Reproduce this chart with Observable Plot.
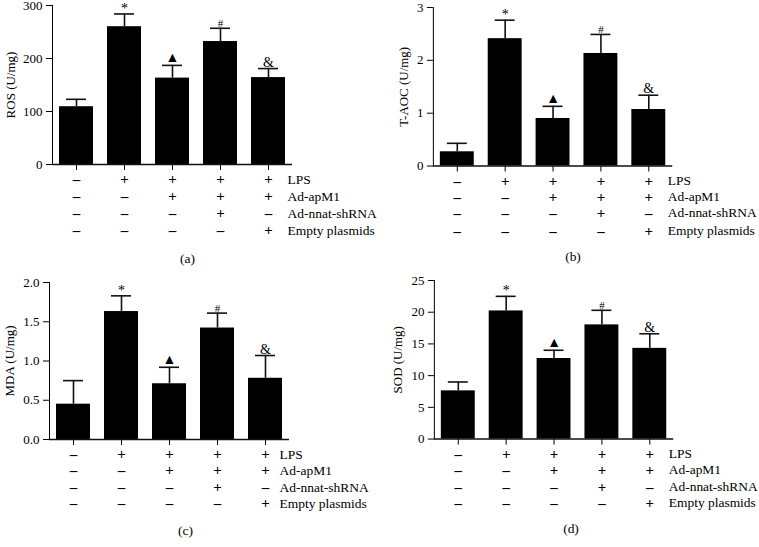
<!DOCTYPE html>
<html><head><meta charset="utf-8">
<script src="https://cdn.jsdelivr.net/npm/d3@7"></script>
<script src="https://cdn.jsdelivr.net/npm/@observablehq/plot@0.6"></script>
<style>
body{margin:0;background:#fff;width:759px;height:547px;position:relative;overflow:hidden;font-family:"Liberation Serif",serif;}
.p{position:absolute;}
.p svg{overflow:visible;}
</style></head><body>
<div id="pa" class="p" style="left:0;top:0"></div>
<div id="pb" class="p" style="left:380px;top:0"></div>
<div id="pc" class="p" style="left:0;top:276px"></div>
<div id="pd" class="p" style="left:380px;top:276px"></div>
<script>
// ---- data ----
const groups = ["1", "2", "3", "4", "5"];
const sigLabels = ["", "*", "▲", "#", "&"];
const rowLabels = ["LPS", "Ad-apM1", "Ad-nnat-shRNA", "Empty plasmids"];
const rowLPS   = ["–", "+", "+", "+", "+"];
const rowApM1  = ["–", "–", "+", "+", "+"];
const rowNnat  = ["–", "–", "–", "+", "–"];
const rowEmpty = ["–", "–", "–", "–", "+"];

const rosMean  = [109, 260, 163, 232, 164];
const rosSD    = [14, 24, 24, 25, 17];
const taocMean = [0.27, 2.41, 0.90, 2.13, 1.07];
const taocSD   = [0.16, 0.35, 0.23, 0.36, 0.27];
const mdaMean  = [0.45, 1.63, 0.71, 1.42, 0.78];
const mdaSD    = [0.30, 0.20, 0.21, 0.19, 0.29];
const sodMean  = [7.6, 20.2, 12.7, 18.0, 14.3];
const sodSD    = [1.4, 2.3, 1.3, 2.3, 2.3];

const rosTicks  = [0, 100, 200, 300];
const taocTicks = [0, 1, 2, 3];
const mdaTicks  = [0, 0.5, 1.0, 1.5, 2.0];
const sodTicks  = [0, 5, 10, 15, 20, 25];

const tableRows = [rowLPS, rowApM1, rowNnat, rowEmpty];

function panel(id, cfg) {
  const data = groups.map((g, i) => ({g, v: cfg.mean[i], e: cfg.mean[i] + cfg.sd[i], s: sigLabels[i]}));
  const marks = [
    Plot.barY(data, {x: "g", y: "v", fill: "#000"}),
    Plot.ruleX(data, {x: "g", y1: "v", y2: "e", stroke: "#111", strokeWidth: 1.6}),
    Plot.tickY(data, {x: "g", y: "e", stroke: "#111", strokeWidth: 1.6, insetLeft: 7, insetRight: 7}),
    Plot.text(data, {filter: d => d.s === "*", x: "g", y: "e", text: "s", dy: -1, lineAnchor: "bottom", fontSize: 14, fill: "#000"}),
    Plot.text(data, {filter: d => d.s === "▲", x: "g", y: "e", text: "s", dy: -3, lineAnchor: "bottom", fontSize: 14, fill: "#000"}),
    Plot.text(data, {filter: d => d.s === "#", x: "g", y: "e", text: "s", dy: -1, lineAnchor: "bottom", fontSize: 11, fill: "#000"}),
    Plot.text(data, {filter: d => d.s === "&", x: "g", y: "e", text: "s", dy: -2, lineAnchor: "bottom", fontSize: 14, fill: "#000"}),
    Plot.ruleY([0], {stroke: "#111", strokeWidth: 1.5}),
    Plot.text([cfg.label], {text: d => d, frameAnchor: "left", dx: -cfg.labelOffset, rotate: -90,
      textAnchor: "middle", lineAnchor: "middle", fontSize: 13, fill: "#000"})
  ];
  tableRows.forEach((row, r) => {
    const rd = groups.map((g, i) => ({g, s: row[i]}));
    marks.push(Plot.text(rd, {x: "g", text: "s", frameAnchor: "bottom", dy: cfg.rowDy[r], lineAnchor: "middle",
      fontSize: 15, fontWeight: "bold", fill: "#000"}));
    marks.push(Plot.text([rowLabels[r]], {x: () => groups[groups.length - 1], text: d => d, frameAnchor: "bottom",
      dx: cfg.labelDx, dy: cfg.rowDy[r], textAnchor: "start", lineAnchor: "middle", fontSize: 13.5, fill: "#000"}));
  });
  marks.push(Plot.text([cfg.letter], {text: d => d, frameAnchor: "bottom", dx: cfg.letterDx, dy: cfg.letterDy,
    lineAnchor: "middle", fontSize: 13.5, fill: "#000"}));

  const chart = Plot.plot({
    width: 380,
    height: 270,
    marginLeft: cfg.ml,
    marginRight: 380 - cfg.ml - 240,
    marginTop: cfg.mt,
    marginBottom: cfg.mb,
    style: {fontFamily: "'Liberation Serif', serif", fontSize: "13px", color: "#000", background: "transparent"},
    x: {domain: groups, paddingInner: 0.29, paddingOuter: 0.145, tickSize: 6, tickFormat: () => "", label: null},
    y: {domain: [cfg.ticks[0], cfg.ticks[cfg.ticks.length - 1]], ticks: cfg.ticks, tickFormat: cfg.fmt, tickSize: 6,
        tickPadding: 4, line: true, label: null},
    marks
  });
  document.getElementById(id).appendChild(chart);
}

panel("pa", {mean: rosMean, sd: rosSD, ticks: rosTicks, fmt: d3.format("d"), label: "ROS (U/mg)", labelOffset: 42,
  ml: 52, mt: 5, mb: 106, rowDy: [15, 32, 49, 66], labelDx: 19, letter: "(a)", letterDx: 15, letterDy: 94});
panel("pb", {mean: taocMean, sd: taocSD, ticks: taocTicks, fmt: d3.format("d"), label: "T-AOC (U/mg)", labelOffset: 30,
  ml: 53, mt: 7, mb: 104, rowDy: [15, 31, 47, 65], labelDx: 19, letter: "(b)", letterDx: 20, letterDy: 91});
panel("pc", {mean: mdaMean, sd: mdaSD, ticks: mdaTicks, fmt: d3.format(".1f"), label: "MDA (U/mg)", labelOffset: 40,
  ml: 49, mt: 6, mb: 107, rowDy: [15, 31, 48, 64], labelDx: 14, letter: "(c)", letterDx: 16, letterDy: 91});
panel("pd", {mean: sodMean, sd: sodSD, ticks: sodTicks, fmt: d3.format("d"), label: "SOD (U/mg)", labelOffset: 37,
  ml: 54, mt: 4, mb: 107, rowDy: [15, 31, 48, 64], labelDx: 19, letter: "(d)", letterDx: 17, letterDy: 90});
</script>
</body></html>
